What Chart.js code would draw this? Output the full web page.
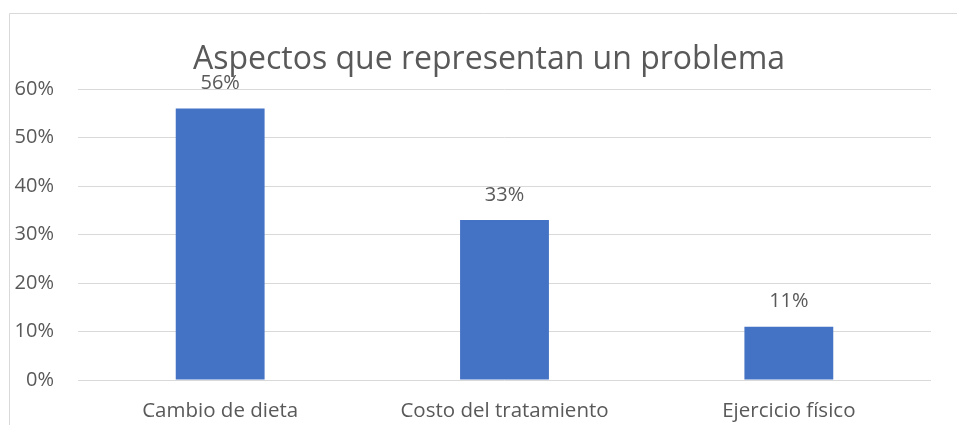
<!DOCTYPE html>
<html lang="es">
<head>
<meta charset="UTF-8">
<title>Aspectos que representan un problema</title>
<script src="https://cdn.jsdelivr.net/npm/chart.js@4.4.0/dist/chart.umd.min.js"></script>
<style>
  html, body { margin: 0; padding: 0; background: #fff; }
  #wrap { position: relative; width: 957px; height: 425px; }
</style>
</head>
<body>
<div id="wrap"><canvas id="chart" width="957" height="425"></canvas></div>
<script>
  // datos del grafico
  const categorias = ['Cambio de dieta', 'Costo del tratamiento', 'Ejercicio físico'];
  const porcentajes = [0.56, 0.33, 0.11];
  const titulo = 'Aspectos que representan un problema';

  const colorTexto = '#595959';
  const fuente = "'Open Sans', sans-serif";

  // marco gris y titulo (centrado sobre el marco, no sobre el canvas)
  const marco = {
    id: 'marco',
    beforeDraw(chart) {
      const ctx = chart.ctx;
      ctx.save();
      ctx.strokeStyle = '#D9D9D9';
      ctx.lineWidth = 1;
      ctx.beginPath();
      ctx.moveTo(9.5, chart.height);
      ctx.lineTo(9.5, 13.5);
      ctx.lineTo(chart.width, 13.5);
      ctx.stroke();

      ctx.font = '32px ' + fuente;
      ctx.fillStyle = colorTexto;
      ctx.textAlign = 'center';
      ctx.textBaseline = 'alphabetic';
      ctx.fillText(titulo, 489, 69);
      ctx.restore();
    }
  };

  // etiquetas de valor encima de cada barra
  const etiquetas = {
    id: 'etiquetas',
    afterDatasetsDraw(chart) {
      const ctx = chart.ctx;
      const meta = chart.getDatasetMeta(0);
      ctx.save();
      ctx.font = '20px ' + fuente;
      ctx.fillStyle = colorTexto;
      ctx.textAlign = 'center';
      ctx.textBaseline = 'middle';
      meta.data.forEach((bar, i) => {
        const v = chart.data.datasets[0].data[i];
        ctx.fillText(Math.round(v * 100) + '%', bar.x, bar.y - 25);
      });
      ctx.restore();
    }
  };

  new Chart(document.getElementById('chart'), {
    type: 'bar',
    data: {
      labels: categorias,
      datasets: [{
        data: porcentajes,
        backgroundColor: '#4472C4',
        barPercentage: 0.625,
        categoryPercentage: 0.5
      }]
    },
    options: {
      responsive: false,
      animation: false,
      layout: { padding: { left: 0, right: 26, top: 89, bottom: 0 } },
      plugins: {
        legend: { display: false },
        tooltip: { enabled: false },
        title: { display: false }
      },
      scales: {
        x: {
          grid: { display: false, drawTicks: false },
          border: { display: false },
          ticks: { color: colorTexto, font: { family: fuente, size: 20.5 }, padding: 19 },
          afterFit(scale) { scale.height = 45; }
        },
        y: {
          min: 0,
          max: 0.6,
          grid: { color: '#D9D9D9', lineWidth: 1, drawTicks: false },
          border: { display: false },
          ticks: {
            stepSize: 0.1,
            color: colorTexto,
            font: { family: fuente, size: 20 },
            padding: 24,
            callback: v => Math.round(v * 100) + '%'
          },
          afterFit(scale) { scale.width = 78; }
        }
      }
    },
    plugins: [marco, etiquetas]
  });
</script>
</body>
</html>
